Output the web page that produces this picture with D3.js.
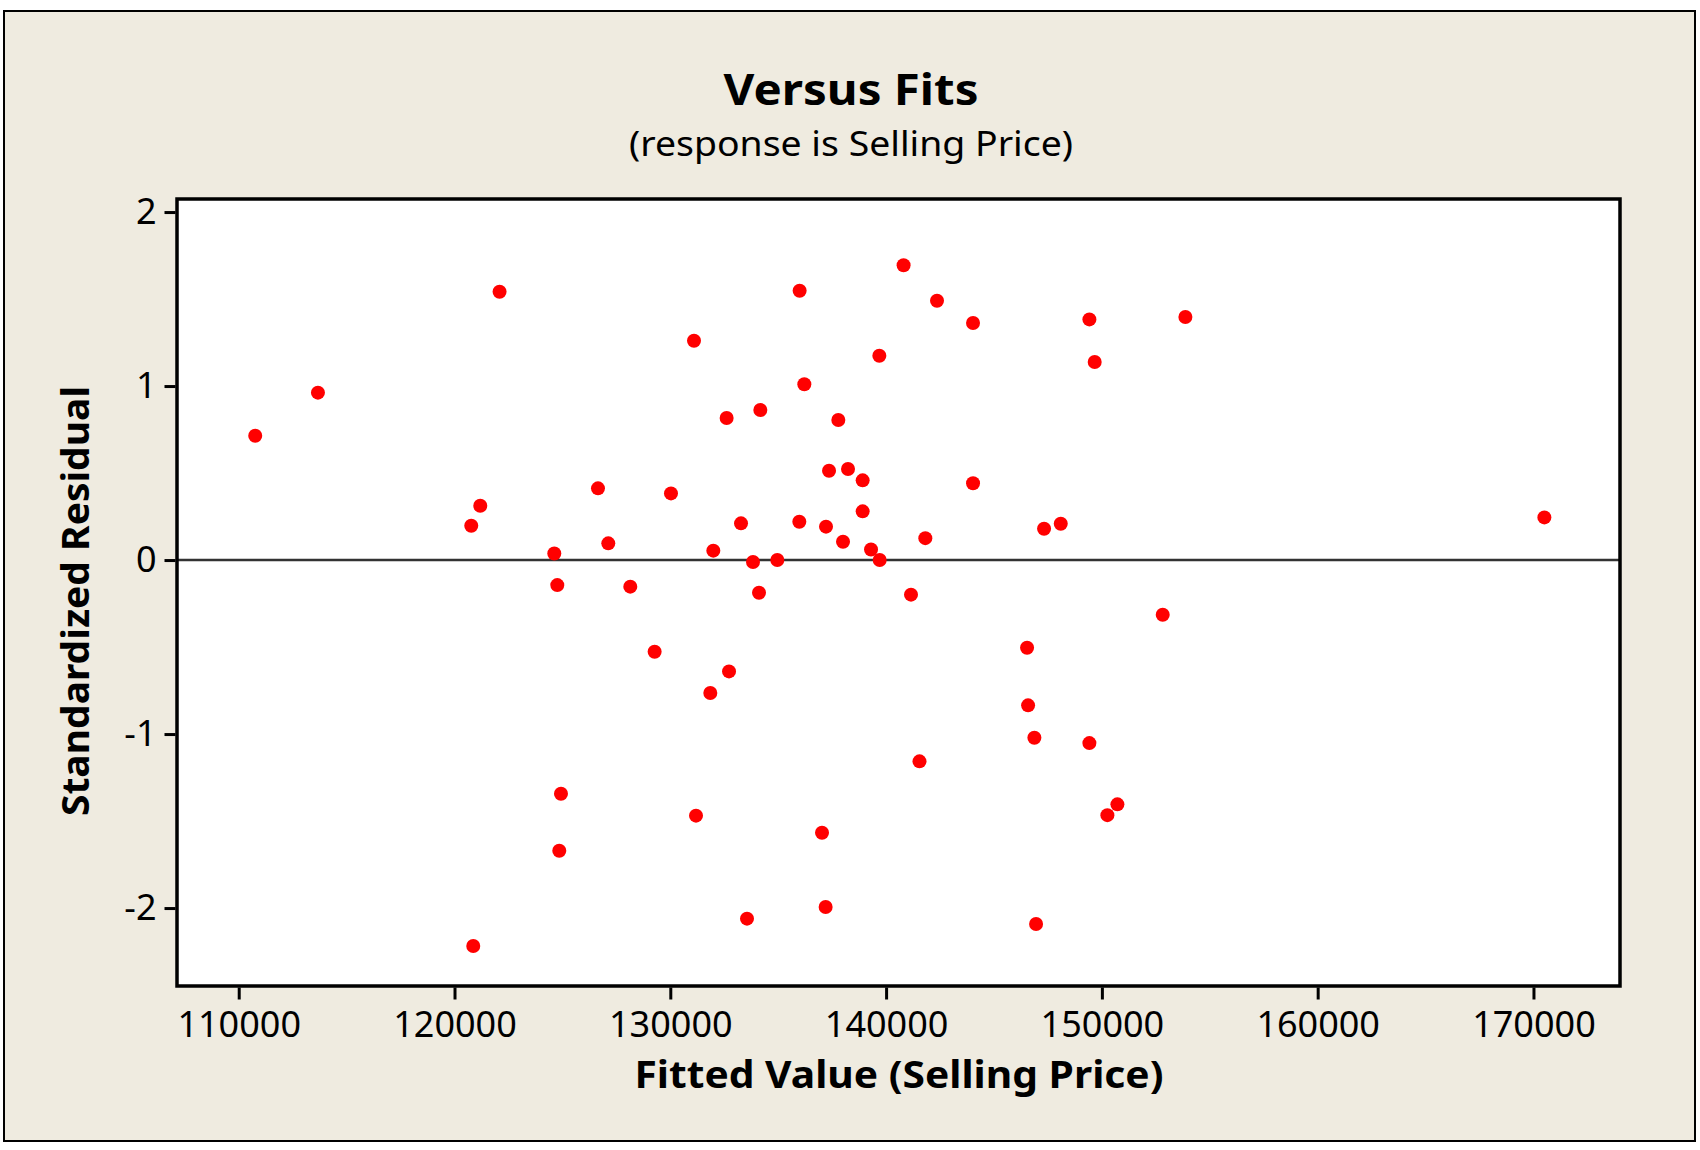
<!DOCTYPE html>
<html>
<head>
<meta charset="utf-8">
<script src="https://cdn.jsdelivr.net/npm/d3@7"></script>
<style>
  html, body { margin: 0; padding: 0; background: #ffffff; }
  svg { display: block; }
</style>
</head>
<body>
<script>
// ---- data ----
const fittedValues = [
  110765, 113671, 120776, 121194, 120869, 122088, 124624, 124763, 124934, 124855,
  126649, 127126, 128146, 129274, 130032, 131098, 131191, 131854, 131993, 132610,
  132721, 133277, 133554, 133833, 134172, 134111, 134960, 135993, 136211, 135979,
  137031, 137198, 137216, 137356, 137787, 138004, 138236, 138914, 138914, 139302,
  139687, 139703, 140811, 141154, 141548, 141818, 142360, 144029, 144029, 146533,
  146580, 146872, 146950, 147321, 148094, 149421, 149421, 149667, 150255, 150719,
  152819, 153870, 170505
];
const standardizedResiduals = [
  0.714, 0.962, 0.197, 0.312, -2.218, 1.542, 0.038, -0.144, -1.343, -1.671,
  0.412, 0.096, -0.153, -0.527, 0.383, 1.260, -1.469, -0.764, 0.054, 0.816,
  -0.640, 0.211, -2.061, -0.011, 0.862, -0.188, 0.000, 1.548, 1.010, 0.220,
  -1.567, -1.994, 0.192, 0.513, 0.805, 0.105, 0.523, 0.458, 0.280, 0.061,
  1.174, 0.000, 1.694, -0.199, -1.157, 0.126, 1.490, 1.362, 0.441, -0.504,
  -0.835, -1.021, -2.092, 0.180, 0.209, 1.383, -1.052, 1.138, -1.466, -1.404,
  -0.314, 1.397, 0.245
];
const xTickValues = [110000, 120000, 130000, 140000, 150000, 160000, 170000];
const yTickValues = [-2, -1, 0, 1, 2];
const xDomain = [107140, 174010];
const yDomain = [-2.448, 2.075];
const referenceLine = [0];

const titleText = "Versus Fits";
const subtitleText = "(response is Selling Price)";
const xLabelText = "Fitted Value (Selling Price)";
const yLabelText = "Standardized Residual";

// ---- layout ----
const W = 1700, H = 1150;
const plot = { left: 177, right: 1620, top: 199, bottom: 986 };
const FONT = "'Noto Sans', 'DejaVu Sans', sans-serif";

const svg = d3.select("body").append("svg")
  .attr("width", W).attr("height", H);

// outer frame
svg.append("rect")
  .attr("x", 4).attr("y", 11).attr("width", 1691).attr("height", 1130)
  .attr("fill", "#efebe0").attr("stroke", "#000").attr("stroke-width", 2);

const x = d3.scaleLinear().domain(xDomain).range([plot.left, plot.right]);
const y = d3.scaleLinear().domain(yDomain).range([plot.bottom, plot.top]);

// plot area
svg.append("rect")
  .attr("x", plot.left).attr("y", plot.top)
  .attr("width", plot.right - plot.left).attr("height", plot.bottom - plot.top)
  .attr("fill", "#ffffff");

// reference line at 0
svg.selectAll("line.ref").data(referenceLine).enter().append("line")
  .attr("class", "ref")
  .attr("x1", plot.left).attr("x2", plot.right)
  .attr("y1", d => y(d)).attr("y2", d => y(d))
  .attr("stroke", "#333").attr("stroke-width", 2.6);

// points
svg.append("g").selectAll("circle")
  .data(fittedValues.map((v, i) => [v, standardizedResiduals[i]]))
  .enter().append("circle")
  .attr("cx", d => x(d[0]))
  .attr("cy", d => y(d[1]))
  .attr("r", 7)
  .attr("fill", "#ff0000");

// plot frame
svg.append("rect")
  .attr("x", plot.left).attr("y", plot.top)
  .attr("width", plot.right - plot.left).attr("height", plot.bottom - plot.top)
  .attr("fill", "none").attr("stroke", "#000").attr("stroke-width", 3.5);

// axes
const plainFormat = d => String(d);   // keeps the ASCII hyphen for negatives
const xAxis = svg.append("g")
  .attr("transform", `translate(0,${plot.bottom + 1.5})`)
  .call(d3.axisBottom(x).tickValues(xTickValues).tickFormat(plainFormat)
        .tickSizeOuter(0).tickSize(12).tickPadding(12));
const yAxis = svg.append("g")
  .attr("transform", `translate(${plot.left - 1.5},0)`)
  .call(d3.axisLeft(y).tickValues(yTickValues).tickFormat(plainFormat)
        .tickSizeOuter(0).tickSize(11).tickPadding(8));

[xAxis, yAxis].forEach(g => {
  g.select(".domain").remove();
  g.selectAll(".tick line").attr("stroke", "#000").attr("stroke-width", 3);
  g.selectAll(".tick text")
    .attr("fill", "#000")
    .style("font-family", FONT)
    .style("font-size", "36px");
});

// titles
svg.append("text")
  .attr("x", 851).attr("y", 105)
  .attr("text-anchor", "middle")
  .style("font-family", FONT).style("font-weight", "bold").style("font-size", "43px")
  .attr("textLength", 255).attr("lengthAdjust", "spacingAndGlyphs")
  .text(titleText);

svg.append("text")
  .attr("x", 851).attr("y", 156)
  .attr("text-anchor", "middle")
  .style("font-family", FONT).style("font-size", "35px")
  .attr("textLength", 444).attr("lengthAdjust", "spacingAndGlyphs")
  .text(subtitleText);

svg.append("text")
  .attr("x", 899).attr("y", 1088)
  .attr("text-anchor", "middle")
  .style("font-family", FONT).style("font-weight", "bold").style("font-size", "38px")
  .attr("textLength", 529).attr("lengthAdjust", "spacingAndGlyphs")
  .text(xLabelText);

svg.append("text")
  .attr("transform", `translate(89,601) rotate(-90)`)
  .attr("text-anchor", "middle")
  .style("font-family", FONT).style("font-weight", "bold").style("font-size", "38px")
  .attr("textLength", 430).attr("lengthAdjust", "spacingAndGlyphs")
  .text(yLabelText);
</script>
</body>
</html>
